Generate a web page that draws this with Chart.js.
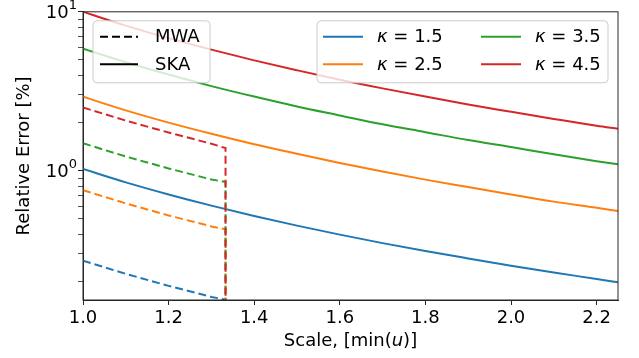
<!DOCTYPE html>
<html>
<head>
<meta charset="utf-8">
<script src="https://cdn.jsdelivr.net/npm/chart.js@4"></script>
<style>
  html, body { margin: 0; padding: 0; background: #fff; }
  #chart { display: block; }
</style>
</head>
<body>
<canvas id="chart" width="639" height="358"></canvas>
<script>
// SKA curves (solid)
const skaX = [1.0, 1.1, 1.2, 1.3, 1.4, 1.5, 1.6, 1.7, 1.8, 1.9, 2.0, 2.1, 2.2, 2.25];
const skaK15 = [1.026, 0.846, 0.710, 0.604, 0.520, 0.452, 0.397, 0.351, 0.313, 0.281, 0.253, 0.229, 0.209, 0.199];
const skaK25 = [2.92, 2.40, 2.01, 1.71, 1.47, 1.28, 1.12, 0.99, 0.88, 0.79, 0.71, 0.64, 0.585, 0.558];
const skaK35 = [5.86, 4.82, 4.03, 3.41, 2.93, 2.54, 2.23, 1.96, 1.75, 1.56, 1.41, 1.27, 1.15, 1.10];
const skaK45 = [10.0, 8.19, 6.83, 5.78, 4.95, 4.29, 3.74, 3.30, 2.93, 2.61, 2.35, 2.12, 1.92, 1.84];

// MWA curves (dashed), they stop at 1.333 and drop off the bottom
const mwaX = [1.0, 1.1, 1.2, 1.3, 1.333, 1.333];
const mwaK15 = [0.272, 0.225, 0.189, 0.161, 0.155, 0.01];
const mwaK25 = [0.755, 0.624, 0.524, 0.447, 0.429, 0.01];
const mwaK35 = [1.49, 1.23, 1.035, 0.882, 0.851, 0.01];
const mwaK45 = [2.50, 2.07, 1.74, 1.48, 1.39, 0.01];

const kappas = ["1.5", "2.5", "3.5", "4.5"];
const colors = ["#1f77b4", "#ff7f0e", "#2ca02c", "#d62728"];

const xTicks = [1.0, 1.2, 1.4, 1.6, 1.8, 2.0, 2.2];
const yTicks = [0.2, 0.3, 0.4, 0.5, 0.6, 0.7, 0.8, 0.9, 1, 2, 3, 4, 5, 6, 7, 8, 9, 10];
const yLabels = [[1, "0"], [10, "1"]]; // 10^exp

const FONT = "DejaVu Sans";
const DASH = [8, 4];

function pts(xs, ys) {
  return xs.map((x, i) => ({ x: x, y: ys[i] }));
}

const ska = [skaK15, skaK25, skaK35, skaK45];
const mwa = [mwaK15, mwaK25, mwaK35, mwaK45];

const datasets = [];
// red on top: lower order draws later
for (let i = 0; i < 4; i++) {
  datasets.push({
    label: "MWA k=" + kappas[i],
    data: pts(mwaX, mwa[i]),
    borderColor: colors[i],
    borderWidth: 2,
    borderDash: DASH,
    pointRadius: 0,
    tension: 0,
    order: 10 - i
  });
  datasets.push({
    label: "SKA k=" + kappas[i],
    data: pts(skaX, ska[i]),
    borderColor: colors[i],
    borderWidth: 2,
    pointRadius: 0,
    cubicInterpolationMode: "monotone",
    order: 20 - i
  });
}

const extras = {
  id: "extras",
  afterDraw(chart) {
    const ctx = chart.ctx;
    const a = chart.chartArea;
    ctx.save();

    // full frame like matplotlib
    ctx.strokeStyle = "#262626";
    ctx.lineWidth = 1;
    ctx.strokeRect(a.left, a.top, a.right - a.left, a.bottom - a.top);

    ctx.font = "18px '" + FONT + "'";
    ctx.fillStyle = "#000";
    ctx.textBaseline = "middle";

    // y tick labels as 10 with a superscript exponent
    const ys = chart.scales.y;
    yLabels.forEach(([v, e]) => {
      const py = ys.getPixelForValue(v);
      ctx.font = "13px '" + FONT + "'";
      const ew = ctx.measureText(e).width;
      ctx.font = "18px '" + FONT + "'";
      const bw = ctx.measureText("10").width;
      const right = a.left - 6;
      ctx.fillStyle = "#000";
      ctx.fillText("10", right - ew - bw, py + 2);
      ctx.font = "13px '" + FONT + "'";
      ctx.fillText(e, right - ew, py - 6);
    });

    function frame(x, y, w, h) {
      ctx.beginPath();
      ctx.roundRect(x, y, w, h, 4);
      ctx.fillStyle = "rgba(255,255,255,0.8)";
      ctx.fill();
      ctx.strokeStyle = "#cccccc";
      ctx.lineWidth = 1;
      ctx.stroke();
    }
    function sample(x1, x2, y, color, dash) {
      ctx.beginPath();
      ctx.setLineDash(dash);
      ctx.strokeStyle = color;
      ctx.lineWidth = 2;
      ctx.moveTo(x1, y);
      ctx.lineTo(x2, y);
      ctx.stroke();
      ctx.setLineDash([]);
    }

    // left legend: line styles
    const lx = a.left + 10, ly = a.top + 9;
    frame(lx, ly, 117, 62);
    sample(lx + 7, lx + 45, ly + 16, "#000", DASH);
    sample(lx + 7, lx + 45, ly + 43.5, "#000", []);
    ctx.fillStyle = "#000";
    ctx.font = "18px '" + FONT + "'";
    ctx.fillText("MWA", lx + 62, ly + 17);
    ctx.fillText("SKA", lx + 62, ly + 44.5);

    // right legend: kappa colours, two columns
    const rw = 291;
    const rx = a.right - 10 - rw, ry = a.top + 9;
    frame(rx, ry, rw, 62);
    for (let i = 0; i < 4; i++) {
      const col = Math.floor(i / 2), row = i % 2;
      const cx = rx + col * 158;
      const cy = ry + 16 + row * 27.5;
      sample(cx + 6, cx + 46, cy, colors[i], []);
      ctx.fillStyle = "#000";
      ctx.font = "italic 18px '" + FONT + "'";
      ctx.fillText("\u03ba", cx + 60, cy + 1);
      const kw = ctx.measureText("\u03ba").width;
      ctx.font = "18px '" + FONT + "'";
      ctx.fillText(" = " + kappas[i], cx + 60 + kw, cy + 1);
    }

    // x title with italic u
    const parts = [["Scale, [min(", ""], ["u", "italic "], [")]", ""]];
    let total = 0;
    parts.forEach(p => { ctx.font = p[1] + "18px '" + FONT + "'"; total += ctx.measureText(p[0]).width; });
    let tx = (a.left + a.right) / 2 - total / 2;
    ctx.fillStyle = "#000";
    parts.forEach(p => {
      ctx.font = p[1] + "18px '" + FONT + "'";
      ctx.fillText(p[0], tx, 341);
      tx += ctx.measureText(p[0]).width;
    });

    // y title
    ctx.save();
    ctx.translate(24, (a.top + a.bottom) / 2);
    ctx.rotate(-Math.PI / 2);
    ctx.textAlign = "center";
    ctx.font = "18px '" + FONT + "'";
    ctx.fillText("Relative Error [%]", 0, 0);
    ctx.restore();

    ctx.restore();
  }
};

new Chart(document.getElementById("chart"), {
  type: "line",
  data: { datasets: datasets },
  plugins: [extras],
  options: {
    responsive: false,
    animation: false,
    events: [],
    layout: { padding: { left: 0, right: 21, top: 10, bottom: 0 } },
    plugins: { legend: { display: false }, tooltip: { enabled: false } },
    scales: {
      x: {
        type: "linear",
        min: 1.0,
        max: 2.25,
        afterBuildTicks: (scale) => { scale.ticks = xTicks.map(v => ({ value: v })); },
        afterFit: (scale) => { scale.height = 58; },
        grid: { drawOnChartArea: false, tickLength: 5, tickColor: "#262626" },
        border: { color: "#262626", width: 1 },
        ticks: {
          autoSkip: false,
          maxRotation: 0,
          padding: 3,
          color: "#000",
          font: { family: FONT, size: 18 },
          callback: (v) => Number(v).toFixed(1)
        }
      },
      y: {
        type: "logarithmic",
        min: 0.154,
        max: 10,
        afterBuildTicks: (scale) => { scale.ticks = yTicks.map(v => ({ value: v, major: v === 1 || v === 10 })); },
        afterFit: (scale) => { scale.width = 83; },
        grid: {
          drawOnChartArea: false,
          tickLength: 5,
          tickColor: "#262626",
          tickWidth: (c) => (c.tick && (c.tick.value === 1 || c.tick.value === 10)) ? 1 : 0.8
        },
        border: { color: "#262626", width: 1 },
        ticks: {
          autoSkip: false,
          padding: 1,
          color: "#000",
          font: { family: FONT, size: 18 },
          callback: () => ""
        }
      }
    }
  }
});
</script>
</body>
</html>
